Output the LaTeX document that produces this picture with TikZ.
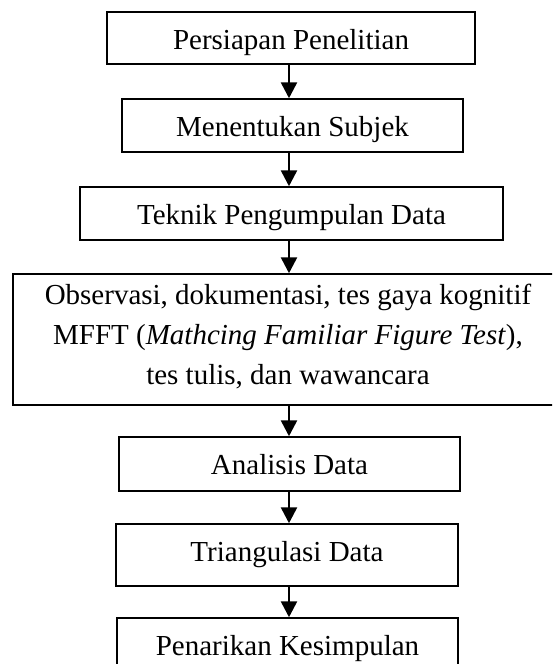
\documentclass[tikz,border=0pt]{standalone}
\usepackage{fontspec}
\setmainfont{Liberation Serif}
\usetikzlibrary{arrows.meta}
\begin{document}
\begin{tikzpicture}[x=1pt,y=-1pt,
  txt/.style={font={\fontsize{29}{40}\selectfont}, align=center},
  stepbox/.style={draw=black, line width=1.5pt, fill=white, inner sep=0pt, txt,
    text depth=0pt},
  flow/.style={line width=2.6pt, -{Triangle[length=16pt,width=16pt]}}]
  \useasboundingbox (0,0) rectangle (552,664);
  \clip (0,0) rectangle (552,664);
  \fill[white] (0,0) rectangle (552,664);

  % process steps, top to bottom (baseline sits 37pt below each top edge)
  \node[stepbox, minimum width=368pt, minimum height=52pt, text height=22pt] (b1) at (291,38) {Persiapan Penelitian};
  \node[stepbox, minimum width=341pt, minimum height=53pt, text height=21pt] (b2) at (292.5,125.5) {Menentukan Subjek};
  \node[stepbox, minimum width=423pt, minimum height=53pt, text height=21pt] (b3) at (291.5,213.5) {Teknik Pengumpulan Data};
  \node[stepbox, minimum width=550pt, minimum height=131pt] (b4) at (288,339.5) {};
  \node[txt, yshift=3pt] (b4text) at (b4.center)
    {Observasi, dokumentasi, tes gaya kognitif\\MFFT (\textit{Mathcing Familiar Figure Test}),\\tes tulis, dan wawancara};
  \node[stepbox, minimum width=341pt, minimum height=54pt, text height=20pt] (b5) at (289.5,464) {Analisis Data};
  \node[stepbox, minimum width=342pt, minimum height=62pt, text height=12pt] (b6) at (287,555) {Triangulasi Data};
  \node[stepbox, minimum width=341pt, minimum height=62pt, text height=12pt] (b7) at (287.5,649) {Penarikan Kesimpulan};

  % connectors
  \coordinate (lane) at (289,0);
  \draw[flow] (b1.south -| lane) -- (b2.north -| lane);
  \draw[flow] (b2.south -| lane) -- (b3.north -| lane);
  \draw[flow] (b3.south -| lane) -- (b4.north -| lane);
  \draw[flow] (b4.south -| lane) -- (b5.north -| lane);
  \draw[flow] (b5.south -| lane) -- (b6.north -| lane);
  \draw[flow] (b6.south -| lane) -- (b7.north -| lane);
\end{tikzpicture}
\end{document}
